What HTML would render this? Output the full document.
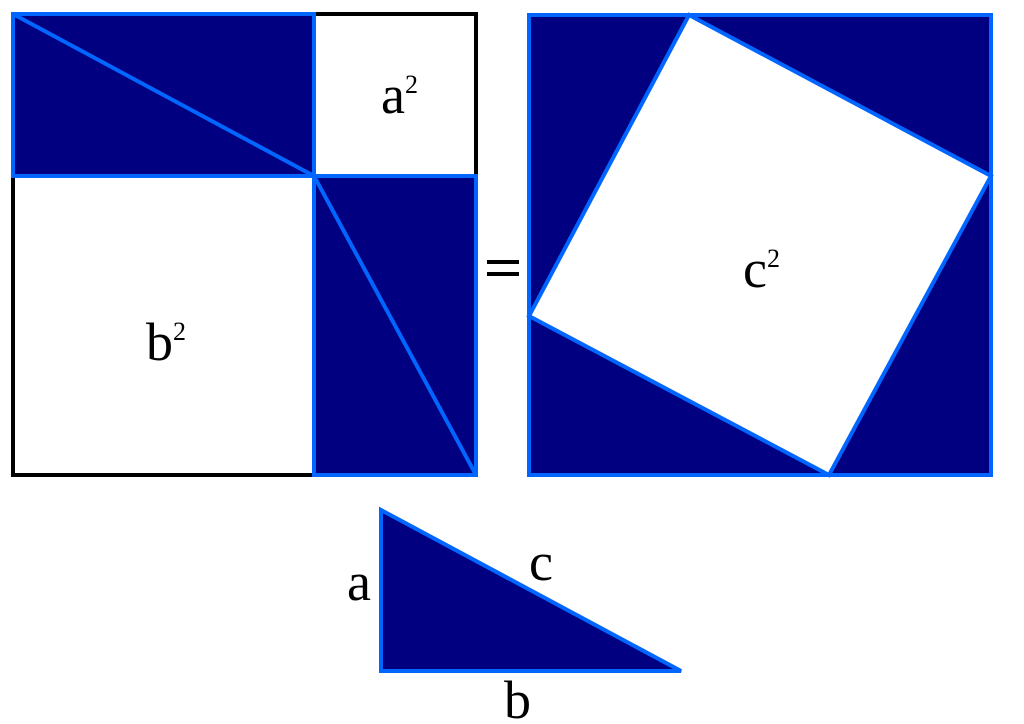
<!DOCTYPE html>
<html><head><style>body{margin:0;background:#fff}svg{display:block}text{font-family:"Liberation Serif",serif;fill:#000}</style></head><body>
<svg width="1024" height="724" viewBox="0 0 1024 724">
<g stroke-width="4" stroke-linejoin="miter">
<rect x="13" y="14" width="463" height="461" fill="#fff" stroke="#000"/>
<rect x="13" y="14" width="301" height="162" fill="#000080" stroke="#0066ff"/>
<line x1="13" y1="14" x2="314" y2="176" stroke="#0066ff"/>
<rect x="314" y="176" width="162" height="299" fill="#000080" stroke="#0066ff"/>
<line x1="314" y1="176" x2="476" y2="475" stroke="#0066ff"/>
<rect x="529" y="15" width="462" height="460" fill="#000080" stroke="#0066ff"/>
<polygon points="689,15 991,176 829,475 529,316" fill="#fff" stroke="#0066ff"/>
<polygon points="381,510 381,671 681,671" fill="#000080" stroke="#0066ff"/>
</g>
<rect x="487" y="260" width="32" height="4" fill="#000"/>
<rect x="487" y="272" width="32" height="4" fill="#000"/>
<text x="381" y="113" font-size="54">a<tspan font-size="26" dy="-20">2</tspan></text>
<text x="146" y="360" font-size="54">b<tspan font-size="26" dy="-20">2</tspan></text>
<text x="743" y="287" font-size="54">c<tspan font-size="26" dy="-20">2</tspan></text>
<text x="347" y="600" font-size="54">a</text>
<text x="529" y="580" font-size="54">c</text>
<text x="504" y="718" font-size="54">b</text>
</svg>
</body></html>
